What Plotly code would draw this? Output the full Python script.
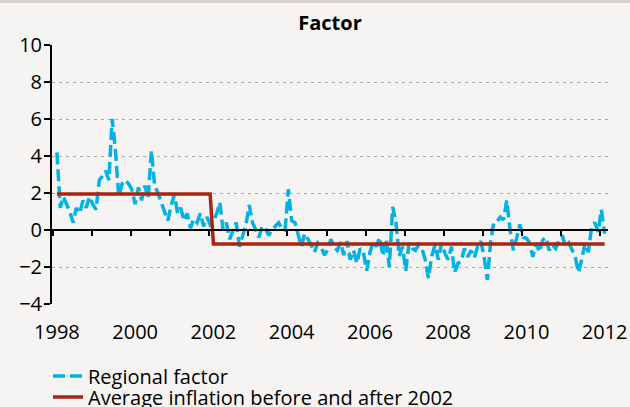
import pandas as pd
import plotly.graph_objects as go

# monthly regional factor, Jan 1998 .. Jan 2012
FACTOR_1998 = [4.2, 1.2, 1.8, 1.4, 1.0, 0.4, 1.2, 0.9, 1.6, 1.2, 1.8, 1.4]
FACTOR_1999 = [1.1, 2.7, 2.9, 3.2, 2.7, 6.0, 4.3, 1.8, 2.5, 2.7, 2.5, 2.2]
FACTOR_2000 = [1.4, 2.3, 1.6, 2.4, 1.7, 4.3, 2.4, 2.0, 1.5, 1.1, 0.5, 1.3]
FACTOR_2001 = [1.9, 0.9, 1.2, 0.5, 0.9, 0.1, 0.6, 0.4, 0.9, 0.2, 0.7, 0.3]
FACTOR_2002 = [0.5, 0.9, 1.5, 0.0, 0.4, -0.5, 0.0, 0.4, -0.9, -0.3, 0.3, 1.35]
FACTOR_2003 = [0.4, 0.0, -0.4, 0.2, 0.1, -0.3, 0.0, 0.2, 0.4, 0.1, 0.0, 2.2]
FACTOR_2004 = [0.5, 0.4, -0.2, -0.9, -0.2, -0.5, -0.8, -1.2, -0.7, -0.9, -1.35, -1.1]
FACTOR_2005 = [-0.5, -0.9, -1.1, -0.65, -1.35, -0.6, -1.6, -1.1, -1.8, -1.0, -1.2, -2.2]
FACTOR_2006 = [-1.2, -0.6, -0.9, -0.4, -1.4, -0.5, -2.0, 1.25, 0.4, -1.4, -0.9, -2.2]
FACTOR_2007 = [-0.7, -1.0, -1.1, -0.8, -1.0, -1.6, -2.6, -1.4, -0.8, -1.6, -0.7, -1.25]
FACTOR_2008 = [-1.6, -0.9, -2.3, -1.8, -1.7, -1.0, -1.45, -1.1, -1.5, -0.9, -0.6, -1.45]
FACTOR_2009 = [-2.7, -0.6, 0.4, 0.45, 0.7, 0.55, 1.6, 0.0, -1.1, -0.45, 0.3, -0.4]
FACTOR_2010 = [-0.45, -0.7, -1.45, -0.7, -1.2, -0.55, -0.4, -1.1, -0.8, -1.0, -0.55, -0.3]
FACTOR_2011 = [-0.9, -0.7, -1.1, -1.45, -2.3, -1.6, -0.7, -1.2, 0.15, 0.4, -0.1, 1.1]
FACTOR_2012 = [-0.2]

AVG_BEFORE_2002 = 1.95
AVG_AFTER_2002 = -0.75
BREAK_DATE = "2002-01-01"

YEAR_TICKS = ["1998", "2000", "2002", "2004", "2006", "2008", "2010", "2012"]

CYAN = "#00B2E5"
DARK_RED = "#AA2412"
BG = "#F5F4F2"
FONT = "Open Sans"
FONT_SIZE = 20

factor = (
    FACTOR_1998 + FACTOR_1999 + FACTOR_2000 + FACTOR_2001 + FACTOR_2002
    + FACTOR_2003 + FACTOR_2004 + FACTOR_2005 + FACTOR_2006 + FACTOR_2007
    + FACTOR_2008 + FACTOR_2009 + FACTOR_2010 + FACTOR_2011 + FACTOR_2012
)
months = pd.date_range("1998-01-01", periods=len(factor), freq="MS")
average = [AVG_BEFORE_2002 if m < pd.Timestamp(BREAK_DATE) else AVG_AFTER_2002 for m in months]

W, H = 630, 407
L, R, T, B = 52, 22, 45, 103
X_RANGE = ["1997-11-16", "2012-02-01"]
Y_RANGE = [-4, 10]

fig = go.Figure()
fig.add_trace(
    go.Scatter(
        x=months,
        y=factor,
        mode="lines",
        name="Regional factor",
        line={"color": CYAN, "width": 3.5, "dash": "12px,5px"},
        legend="legend",
    )
)
fig.add_trace(
    go.Scatter(
        x=months,
        y=average,
        mode="lines",
        name="Average inflation before and after 2002",
        line={"color": DARK_RED, "width": 3.5},
        legend="legend2",
    )
)

plot_h = H - T - B
plot_w = W - L - R
# thin band along the top edge of the page
fig.add_shape(
    type="rect",
    xref="paper",
    yref="paper",
    x0=-L / plot_w,
    x1=1 + R / plot_w,
    y0=1 + (T - 3) / plot_h,
    y1=1 + T / plot_h,
    line={"width": 0},
    fillcolor="#D9D3CD",
    layer="below",
)

legend_common = {
    "xref": "container",
    "yref": "container",
    "xanchor": "left",
    "yanchor": "middle",
    "bgcolor": "rgba(0,0,0,0)",
    "font": {"family": FONT, "size": FONT_SIZE, "color": "#000000"},
}

fig.update_layout(
    width=W,
    height=H,
    margin={"l": L, "r": R, "t": T, "b": B, "autoexpand": False},
    paper_bgcolor=BG,
    plot_bgcolor=BG,
    font={"family": FONT, "size": FONT_SIZE, "color": "#000000"},
    title={
        "text": "<b>Factor</b>",
        "x": 0.5,
        "xref": "paper",
        "y": 1 - 23 / H,
        "yref": "container",
        "xanchor": "center",
        "yanchor": "middle",
        "font": {"family": FONT, "size": FONT_SIZE, "color": "#000000"},
    },
    showlegend=True,
    legend={**legend_common, "x": 48 / W, "y": 1 - 376 / H},
    legend2={**legend_common, "x": 48 / W, "y": 1 - 397 / H},
    xaxis={
        "type": "date",
        "range": X_RANGE,
        "tickvals": [f"{y}-01-01" for y in YEAR_TICKS],
        "ticktext": YEAR_TICKS,
        "ticks": "outside",
        "ticklen": 10,
        "tickcolor": "rgba(0,0,0,0)",
        "tickangle": 0,
        "showline": False,
        "showgrid": False,
        "zeroline": False,
    },
    # horizontal axis line drawn at y = 0 with yearly tick marks
    xaxis2={
        "type": "date",
        "range": X_RANGE,
        "overlaying": "x",
        "anchor": "free",
        "position": (0 - Y_RANGE[0]) / (Y_RANGE[1] - Y_RANGE[0]),
        "side": "bottom",
        "tick0": "1997-11-22",
        "dtick": "M12",
        "ticks": "outside",
        "ticklen": 5,
        "tickwidth": 2,
        "tickcolor": "#000000",
        "showticklabels": False,
        "showline": True,
        "linecolor": "#000000",
        "linewidth": 2,
        "showgrid": False,
        "zeroline": False,
    },
    yaxis={
        "range": Y_RANGE,
        "dtick": 2,
        "tick0": 0,
        "ticks": "outside",
        "ticklen": 6,
        "tickwidth": 2,
        "tickcolor": "#000000",
        "ticklabelstandoff": -2,
        "showline": True,
        "linecolor": "#000000",
        "linewidth": 2,
        "showgrid": True,
        "gridcolor": "#A8A8A8",
        "gridwidth": 1,
        "griddash": "3px,4px",
        "zeroline": False,
    },
)

# invisible trace so the overlay axis is rendered
fig.add_trace(
    go.Scatter(x=[months[0]], y=[0], xaxis="x2", mode="lines", showlegend=False, hoverinfo="skip")
)

# drop the browser's default body margin so the figure fills the window
fig.write_html(
    "out.html",
    config={"displayModeBar": False},
    post_script=f"document.body.style.margin='0';document.body.style.background='{BG}';",
)
